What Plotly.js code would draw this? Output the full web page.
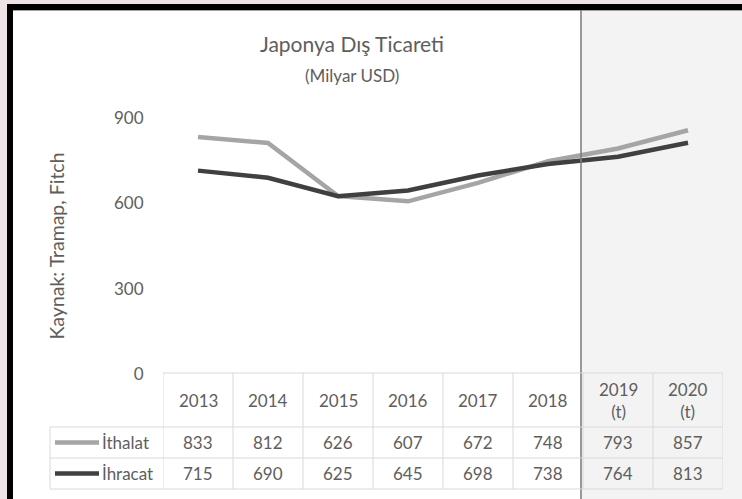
<!DOCTYPE html>
<html><head><meta charset="utf-8">
<script src="https://cdn.plot.ly/plotly-3.0.1.min.js"></script>
<style>html,body{margin:0;padding:0;background:#fff}#chart{width:742px;height:499px}</style>
</head><body><div id="chart"></div>
<script>
// ---- data ----
const years = ['2013','2014','2015','2016','2017','2018','2019 (t)','2020 (t)'];
const headerLabels = ['2013','2014','2015','2016','2017','2018','2019<br>(t)','2020<br>(t)'];
const ithalat = [833, 812, 626, 607, 672, 748, 793, 857];
const ihracat = [715, 690, 625, 645, 698, 738, 764, 813];
const seriesNames = ['İthalat', 'İhracat'];
const yTicks = [0, 300, 600, 900];

// ---- geometry helpers (pixel -> paper) ----
const W = 742, H = 499, L = 163, R = 19, T = 118, B = 125;
const PW = W - L - R, PH = H - T - B;
const px = v => (v - L) / PW;
const py = v => (H - B - v) / PH;

const txt = '#5e5e5e';
const FONT = 'Lato, "Open Sans", sans-serif';
const gridC = '#d9d9d9';
const colors = ['#a5a5a5', '#404040'];
const seriesData = [ithalat, ihracat];

const traces = seriesData.map((d, k) => ({
  type: 'scatter', mode: 'lines', x: years, y: d, name: seriesNames[k],
  line: {color: colors[k], width: 4.5}, hoverinfo: 'x+y+name', cliponaxis: false
}));

const shapes = [];
const annotations = [];

// frame / background
shapes.push({type:'rect', xref:'paper', yref:'paper', x0:px(7), x1:px(760), y0:py(4), y1:py(520), fillcolor:'#000', line:{width:0}, layer:'below'});
shapes.push({type:'rect', xref:'paper', yref:'paper', x0:px(13), x1:px(760), y0:py(10), y1:py(520), fillcolor:'#a0a0a0', line:{width:0}, layer:'below'});
shapes.push({type:'rect', xref:'paper', yref:'paper', x0:px(13), x1:px(760), y0:py(11), y1:py(520), fillcolor:'#ffffff', line:{width:0}, layer:'below'});
shapes.push({type:'rect', xref:'paper', yref:'paper', x0:px(582), x1:px(760), y0:py(11), y1:py(520), fillcolor:'#f3f3f3', line:{width:0}, layer:'below'});
// divider line
shapes.push({type:'line', xref:'paper', yref:'paper', x0:px(581), x1:px(581), y0:py(10), y1:py(520), line:{color:'#7f7f7f', width:1.6}, layer:'above'});

// data table grid
const rowY = [373, 427, 458, 489];
const n = years.length;
shapes.push({type:'line', xref:'x', yref:'paper', x0:-0.5, x1:n-0.5, y0:py(rowY[0]), y1:py(rowY[0]), line:{color:gridC, width:1}});
for (let r = 1; r < rowY.length; r++) {
  shapes.push({type:'line', xref:'paper', yref:'paper', x0:px(50), x1:px(L), y0:py(rowY[r]), y1:py(rowY[r]), line:{color:gridC, width:1}});
  shapes.push({type:'line', xref:'x', yref:'paper', x0:-0.5, x1:n-0.5, y0:py(rowY[r]), y1:py(rowY[r]), line:{color:gridC, width:1}});
}
for (let i = 0; i <= n; i++) {
  shapes.push({type:'line', xref:'x', yref:'paper', x0:i-0.5, x1:i-0.5, y0:py(rowY[0]), y1:py(rowY[3]), line:{color:gridC, width:1}});
}
shapes.push({type:'line', xref:'paper', yref:'paper', x0:px(50), x1:px(50), y0:py(rowY[1]), y1:py(rowY[3]), line:{color:gridC, width:1}});

// header labels (x = category index on the category axis)
headerLabels.forEach((h, i) => {
  annotations.push({xref:'x', yref:'paper', x:i, y:py(400), text:h, showarrow:false,
    font:{family:FONT, size:17, color:txt}, xanchor:'center', yanchor:'middle'});
});
// values + row labels with legend keys
const rowCenters = [442.5, 473.5];
seriesData.forEach((d, k) => {
  d.forEach((v, i) => {
    annotations.push({xref:'x', yref:'paper', x:i, y:py(rowCenters[k]), text:String(v), showarrow:false,
      font:{family:FONT, size:17, color:txt}, xanchor:'center', yanchor:'middle'});
  });
  shapes.push({type:'line', xref:'paper', yref:'paper', x0:px(55), x1:px(99), y0:py(rowCenters[k]), y1:py(rowCenters[k]),
    line:{color:colors[k], width:4.5}});
  annotations.push({xref:'paper', yref:'paper', x:px(100), y:py(rowCenters[k]), text:seriesNames[k], showarrow:false,
    font:{family:FONT, size:17, color:txt}, xanchor:'left', yanchor:'middle'});
});

// subtitle
annotations.push({xref:'paper', yref:'paper', x:px(352), y:py(75), text:'(Milyar USD)', showarrow:false,
  font:{family:FONT, size:17, color:txt}, xanchor:'center', yanchor:'middle'});

const layout = {
  width: W, height: H,
  margin: {l: L, r: R, t: T, b: B, pad: 0},
  paper_bgcolor: '#eee4e6',
  plot_bgcolor: 'rgba(0,0,0,0)',
  font: {family: FONT, color: txt},
  showlegend: false,
  title: {text: 'Japonya Dış Ticareti', font: {family: FONT, size: 21, color: txt},
    x: px(352), xref: 'paper', xanchor: 'center', y: 1 - 45/H, yref: 'container', yanchor: 'middle'},
  xaxis: {type: 'category', range: [-0.5, n - 0.5], showticklabels: false, showgrid: false,
    zeroline: false, showline: false, ticks: '', fixedrange: true},
  yaxis: {range: [0, 900], tickvals: yTicks, showgrid: false, zeroline: false, showline: false,
    ticks: 'outside', ticklen: 15, tickcolor: 'rgba(0,0,0,0)', tickfont: {family: FONT, size: 17, color: txt},
    title: {text: 'Kaynak: Tramap, Fitch', font: {family: FONT, size: 19.5, color: txt}, standoff: 44},
    automargin: false, fixedrange: true},
  shapes: shapes,
  annotations: annotations
};

Plotly.newPlot('chart', traces, layout, {displayModeBar: false, staticPlot: true});
</script>
</body></html>
